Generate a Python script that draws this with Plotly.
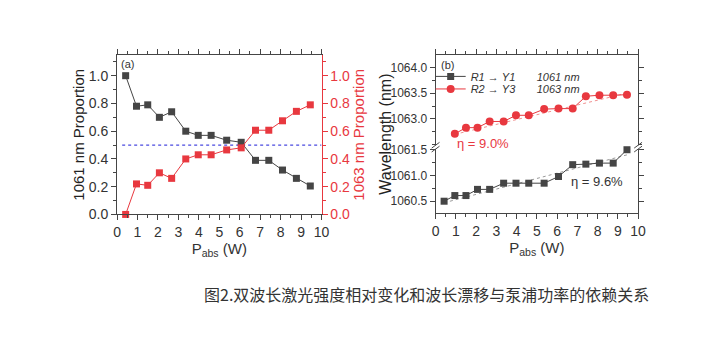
import plotly.graph_objects as go

W, H = 711, 346

# ---------------- data ----------------
p_abs = [0.42, 0.95, 1.50, 2.07, 2.67, 3.36, 3.97, 4.60, 5.36, 6.07, 6.77, 7.42, 8.09, 8.77, 9.45]
prop_1061 = [1.00, 0.78, 0.79, 0.70, 0.74, 0.60, 0.57, 0.57, 0.535, 0.52, 0.39, 0.39, 0.32, 0.26, 0.205]
prop_1063 = [0.00, 0.22, 0.21, 0.30, 0.26, 0.40, 0.43, 0.43, 0.465, 0.48, 0.607, 0.607, 0.675, 0.743, 0.79]

p_abs_red = p_abs[1:]
wl_1061 = [1060.50, 1060.61, 1060.61, 1060.73, 1060.73, 1060.85, 1060.85, 1060.85, 1060.85,
           1060.98, 1061.21, 1061.22, 1061.24, 1061.24, 1061.50]
wl_1063 = [1062.71, 1062.83, 1062.83, 1062.95, 1062.95, 1063.07, 1063.07, 1063.19, 1063.20,
           1063.20, 1063.44, 1063.46, 1063.46, 1063.47]

fit_x_1061 = [0.42, 9.45]
fit_y_1061 = [1060.47, 1061.40]
fit_x_1063 = [0.95, 9.45]
fit_y_1063 = [1062.70, 1063.50]

half_x = [0.25, 10.0]
half_y = [0.5, 0.5]

x_ticks = list(range(0, 11))
left_ticks = [0.0, 0.2, 0.4, 0.6, 0.8, 1.0]
upper_ticks = [1063.0, 1063.5, 1064.0]
lower_ticks = [1060.5, 1061.0, 1061.5]

# ---------------- style ----------------
DARK = "#454545"
RED = "#e8383f"
TXT = "#333333"
FONT = "Liberation Sans, Arial, sans-serif"

def px(x):
    return x / W

def py(y):
    return 1 - y / H

# plot area geometry (pixels)
L_X0, L_X1, L_Y0, L_Y1 = 115, 323, 53, 218
R_X0, R_X1, R_Y0, R_Y1 = 439, 645, 53, 217
BREAK = 148.3

fig = go.Figure()

# left chart
fig.add_trace(go.Scatter(x=half_x, y=half_y, mode="lines", xaxis="x", yaxis="y",
                         line=dict(color="#4a4ae0", width=1.3, dash="dot"), showlegend=False, hoverinfo="skip"))
fig.add_trace(go.Scatter(x=p_abs, y=prop_1061, mode="lines+markers", xaxis="x", yaxis="y",
                         line=dict(color=DARK, width=1), marker=dict(symbol="square", size=7, color=DARK),
                         showlegend=False, cliponaxis=False))
fig.add_trace(go.Scatter(x=p_abs, y=prop_1063, mode="lines+markers", xaxis="x", yaxis="y2",
                         line=dict(color=RED, width=1), marker=dict(symbol="square", size=7, color=RED),
                         showlegend=False, cliponaxis=False))

# right chart
fig.add_trace(go.Scatter(x=fit_x_1061, y=fit_y_1061, mode="lines", xaxis="x2", yaxis="y3",
                         line=dict(color="#9a9a9a", width=1, dash="dot"), showlegend=False, hoverinfo="skip"))
fig.add_trace(go.Scatter(x=fit_x_1063, y=fit_y_1063, mode="lines", xaxis="x3", yaxis="y4",
                         line=dict(color="#f09090", width=1, dash="dot"), showlegend=False, hoverinfo="skip"))
SP = "\u00a0" * 7
fig.add_trace(go.Scatter(x=p_abs, y=wl_1061, mode="lines+markers", xaxis="x2", yaxis="y3",
                         line=dict(color=DARK, width=1), marker=dict(symbol="square", size=7, color=DARK),
                         name="<i>R1</i> \u2192 <i>Y1</i>" + SP + "<i>1061 nm</i>",
                         legend="legend", cliponaxis=False))
fig.add_trace(go.Scatter(x=p_abs_red, y=wl_1063, mode="lines+markers", xaxis="x3", yaxis="y4",
                         line=dict(color=RED, width=1), marker=dict(symbol="circle", size=8, color=RED),
                         name="<i>R2</i> \u2192 <i>Y3</i>" + SP + "<i>1063 nm</i>",
                         legend="legend2", cliponaxis=False))

xdom_L = [px(L_X0), px(L_X1)]
xdom_R = [px(R_X0), px(R_X1)]
ydom_L = [py(L_Y1), py(L_Y0)]
ydom_low = [py(R_Y1), py(BREAK)]
ydom_up = [py(BREAK), py(R_Y0)]

tickfont = dict(family=FONT, size=14, color=TXT)
axis_common = dict(showgrid=False, zeroline=False, showline=True, linewidth=1, ticks="outside",
                   ticklen=5, tickwidth=1)

legend_common = dict(xanchor="left", yanchor="middle", bgcolor="rgba(0,0,0,0)",
                     font=dict(family=FONT, size=11, color=TXT), itemwidth=30)

xtitle = dict(text="P<sub>abs</sub> (W)", font=dict(family=FONT, size=15, color=TXT), standoff=1)

fig.update_layout(
    width=W, height=H, margin=dict(l=0, r=0, t=0, b=0),
    paper_bgcolor="white", plot_bgcolor="white",
    font=dict(family=FONT, color=TXT),
    xaxis=dict(domain=xdom_L, anchor="y", range=[0, 10], tickvals=x_ticks, linecolor=DARK, tickcolor=DARK,
               mirror="ticks", tickfont=tickfont,
               minor=dict(ticks="outside", ticklen=3, dtick=0.5, tickcolor=DARK),
               title=xtitle, **axis_common),
    yaxis=dict(domain=ydom_L, anchor="x", range=[0, 1.148], tickvals=left_ticks, tickformat=".1f",
               linecolor=DARK, tickcolor=DARK, tickfont=tickfont,
               minor=dict(ticks="outside", ticklen=3, dtick=0.1, tickcolor=DARK),
               title=dict(text="1061 nm Proportion", font=dict(family=FONT, size=15, color="#222222"), standoff=0),
               **axis_common),
    yaxis2=dict(anchor="x", overlaying="y", side="right", range=[0, 1.148], tickvals=left_ticks,
                tickformat=".1f", linecolor=RED, tickcolor=RED, tickfont=dict(family=FONT, size=14, color=RED),
                minor=dict(ticks="outside", ticklen=3, dtick=0.1, tickcolor=RED),
                title=dict(text="1063 nm Proportion", font=dict(family=FONT, size=15, color=RED), standoff=4),
                **axis_common),
    xaxis2=dict(domain=xdom_R, anchor="y3", range=[0, 10], tickvals=x_ticks, linecolor=DARK, tickcolor=DARK,
                tickfont=tickfont,
                minor=dict(ticks="outside", ticklen=3, dtick=0.5, tickcolor=DARK),
                title=xtitle, **axis_common),
    xaxis3=dict(domain=xdom_R, anchor="y4", side="top", range=[0, 10], tickvals=x_ticks, matches="x2",
                showticklabels=False, linecolor=DARK, tickcolor=DARK,
                minor=dict(ticks="outside", ticklen=3, dtick=0.5, tickcolor=DARK),
                **axis_common),
    yaxis3=dict(domain=ydom_low, anchor="x2", range=[1060.262, 1061.55], tickvals=lower_ticks,
                tickformat=".1f", linecolor=DARK, tickcolor=DARK, mirror="ticks",
                tickfont=dict(family=FONT, size=12, color=TXT),
                minor=dict(ticks="outside", ticklen=3, dtick=0.25, tickcolor=DARK),
                **axis_common),
    yaxis4=dict(domain=ydom_up, anchor="x3", range=[1062.451, 1064.238], tickvals=upper_ticks,
                tickformat=".1f", linecolor=DARK, tickcolor=DARK, mirror="ticks",
                tickfont=dict(family=FONT, size=12, color=TXT),
                minor=dict(ticks="outside", ticklen=3, dtick=0.25, tickcolor=DARK),
                **axis_common),
    legend=dict(x=px(434), y=py(75), **legend_common),
    legend2=dict(x=px(434), y=py(88), **legend_common),
    showlegend=True,
)

def note(text, x, y, size, color, angle=0, family=FONT):
    return dict(text=text, x=px(x), y=py(y), xref="paper", yref="paper", xanchor="center",
                yanchor="middle", textangle=angle, showarrow=False,
                font=dict(family=family, size=size, color=color))

ann = [
    note("(a)", 126, 62, 11, TXT),
    note("(b)", 451, 63, 11, TXT),
    note("Wavelength (nm)", 388, 135, 16, "#222222", angle=-90),
    note("\u03b7 = 9.0%", 487, 145, 13, RED),
    note("\u03b7 = 9.6%", 603, 184, 13, TXT),
    note("图2.双波长激光强度相对变化和波长漂移与泵浦功率的依赖关系", 430, 300, 16, "#333333",
         family="Noto Sans CJK SC"),
]
fig.update_layout(annotations=ann)

# axis break marks
shapes = []
for ax in (R_X0, R_X1):
    shapes.append(dict(type="rect", xref="paper", yref="paper", x0=px(ax - 2), x1=px(ax + 2),
                       y0=py(BREAK + 2), y1=py(BREAK - 2), fillcolor="white", line=dict(width=0)))
    for off in (-2, 2):
        shapes.append(dict(type="line", xref="paper", yref="paper", x0=px(ax - 4), x1=px(ax + 4),
                           y0=py(BREAK + off + 3), y1=py(BREAK + off - 3), line=dict(color=DARK, width=1)))
fig.update_layout(shapes=shapes)

fig.write_html("out.html")
